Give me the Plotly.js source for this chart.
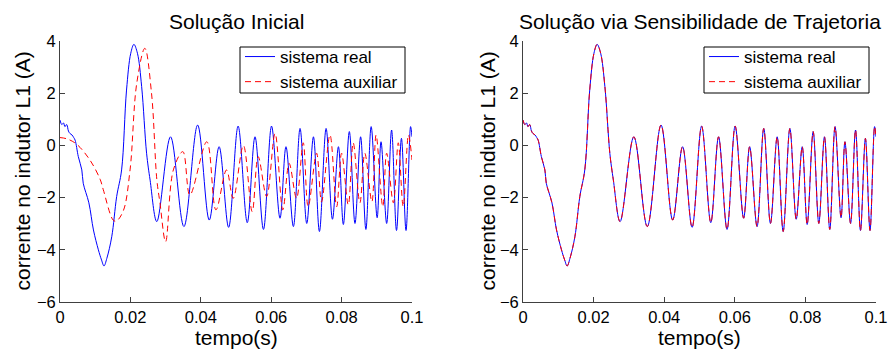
<!DOCTYPE html>
<html>
<head>
<meta charset="utf-8">
<script src="https://cdn.plot.ly/plotly-3.0.1.min.js"></script>
<style>html,body{margin:0;padding:0;background:#fff;}#chart{width:890px;height:352px;}</style>
</head>
<body>
<div id="chart"></div>
<script>
// sistema real (blue) — time (s) and current (A)
const realT = [0, 0.0005, 0.0010, 0.0014, 0.0019, 0.0024, 0.0028, 0.0034, 0.0039, 0.0043, 0.0052, 0.0062, 0.0066, 0.0082, 0.0095, 0.0109, 0.0118, 0.0125, 0.0133, 0.0147, 0.0161, 0.0175, 0.0189, 0.0201, 0.0210, 0.0220, 0.0232, 0.0246, 0.0256, 0.0275,
  0.0314, 0.0352, 0.0391, 0.0424, 0.0452, 0.0479, 0.0506, 0.0532, 0.0554, 0.0578, 0.0601, 0.0625, 0.0642, 0.0663, 0.0682, 0.0701, 0.0720, 0.0737, 0.0756, 0.0774, 0.0791, 0.0805, 0.0822, 0.0838, 0.0854, 0.0869, 0.0884, 0.0901, 0.0912, 0.0928, 0.0942, 0.0956, 0.0970, 0.0983, 0.0996, 0.1000];
const realY = [0.97, 0.80, 0.86, 0.72, 0.80, 0.55, 0.46, 0.40, 0.30, 0.20, -0.43, -0.94, -1.45, -2.20, -3.24, -4.00, -4.39, -4.62, -4.33, -3.50, -1.96, -0.94, 2.12, 3.53, 3.87, 3.53, 2.25, -0.30, -1.33, -2.92,
  0.33, -3.11, 0.78, -2.86, -0.05, -3.14, 0.74, -2.96, 0.33, -3.22, 0.74, -2.79, -0.05, -3.11, 0.65, -2.99, 0.33, -3.30, 0.65, -2.83, -0.05, -3.03, 0.53, -2.99, 0.33, -3.22, 0.72, -2.77, 0.14, -2.99, 0.59, -3.26, 0.27, -3.26, 0.72, 0.33];

// sistema auxiliar, solução inicial (red dashed, left)
const auxT = [0, 0.0020, 0.0047, 0.0085, 0.0114, 0.0123, 0.0151, 0.0160, 0.0180, 0.0199, 0.0218, 0.0241, 0.0260, 0.0275, 0.0284, 0.0300,
  0.0322, 0.0349, 0.0369, 0.0417, 0.0443, 0.0473, 0.0492, 0.0521, 0.0546, 0.0563, 0.0587, 0.0611, 0.0633, 0.0651, 0.0672, 0.0691, 0.0705, 0.0729, 0.0743, 0.0767, 0.0786, 0.0800, 0.0819, 0.0833, 0.0852, 0.0866, 0.0886, 0.0898, 0.0917, 0.0928, 0.0947, 0.0961, 0.0975, 0.0990, 0.1000];
const auxY = [0.30, 0.25, 0.05, -0.56, -1.30, -1.70, -2.86, -2.90, -2.50, -0.94, 2.38, 3.72, 2.00, -1.30, -2.20, -3.69,
  -0.94, -0.24, -1.90, 0.14, -2.47, -0.94, -2.03, 0.00, -2.54, -0.43, -1.96, 0.46, -2.47, -0.69, -2.03, 0.10, -2.35, -0.30, -2.16, 0.40, -2.35, -0.30, -2.28, 0.10, -2.20, -0.30, -2.16, 0.40, -2.35, -0.30, -2.20, 0.10, -2.35, 0.40, -0.56];

// sistema auxiliar após ajuste via sensibilidade (red dashed, right) — follows the real system
const auxAjT = realT;
const auxAjY = realY;

const xTicks = [0, 0.02, 0.04, 0.06, 0.08, 0.1];
const yTicks = [-6, -4, -2, 0, 2, 4];
const titles = ['Solução Inicial', 'Solução via Sensibilidade de Trajetoria'];
const seriesNames = ['sistema real', 'sistema auxiliar'];
const xTitle = 'tempo(s)';
const yTitle = 'corrente no indutor L1 (A)';

const FONT = 'Liberation Sans, Arial, Helvetica, sans-serif';
const blueLine = {color: '#0000ff', width: 1, shape: 'spline', smoothing: 1};
const redLine = {color: '#ff0000', width: 1, dash: '6px,4px', shape: 'spline', smoothing: 1};

const traces = [
  {x: realT, y: realY, type: 'scatter', mode: 'lines', name: seriesNames[0], line: blueLine, xaxis: 'x', yaxis: 'y', legend: 'legend'},
  {x: auxT, y: auxY, type: 'scatter', mode: 'lines', name: seriesNames[1], line: redLine, xaxis: 'x', yaxis: 'y', legend: 'legend'},
  {x: realT, y: realY, type: 'scatter', mode: 'lines', name: seriesNames[0], line: blueLine, xaxis: 'x2', yaxis: 'y2', legend: 'legend2'},
  {x: auxAjT, y: auxAjY, type: 'scatter', mode: 'lines', name: seriesNames[1], line: redLine, xaxis: 'x2', yaxis: 'y2', legend: 'legend2'}
];

function xa(domain, anchor) {
  return {
    domain: domain, anchor: anchor, range: [0, 0.1], tickvals: xTicks, ticktext: xTicks.map(String),
    showline: true, linecolor: '#404040', linewidth: 1, mirror: false, showgrid: false, zeroline: false,
    ticks: 'inside', ticklen: 5, tickcolor: '#404040', tickfont: {size: 16.5, color: '#000', family: FONT}
  };
}
function ya(anchor) {
  return {
    domain: [0, 1], anchor: anchor, range: [-6, 4], tickvals: yTicks,
    showline: true, linecolor: '#404040', linewidth: 1, mirror: false, showgrid: false, zeroline: false,
    ticks: 'inside', ticklen: 5, tickcolor: '#404040', tickfont: {size: 16.5, color: '#000', family: FONT}
  };
}
const W = 890, H = 352, ML = 60, MR = 14, MT = 41, MB = 50;
const PW = W - ML - MR, PH = H - MT - MB;
const px = (v) => (v - ML) / PW;
const py = (v) => 1 - (v - MT) / PH;
const legendAt = (left) => ({
  x: px(left), xanchor: 'left', y: py(39), yanchor: 'top',
  bgcolor: 'rgba(0,0,0,0)', borderwidth: 0, font: {size: 17, color: '#000', family: FONT},
  tracegroupgap: 0, itemwidth: 30
});
const legendBoxes = [[240, 405], [704, 869]].map(([a, b]) => ({
  type: 'rect', xref: 'paper', yref: 'paper', x0: px(a), x1: px(b), y0: py(93), y1: py(47),
  fillcolor: '#fff', line: {color: '#000', width: 1}, layer: 'above'
}));

const titleAnn = titles.map((t, i) => ({
  text: t, xref: (i ? 'x2' : 'x') + ' domain', x: 0.5, xanchor: 'center', yref: 'paper', y: 1, yanchor: 'bottom', yshift: 6,
  showarrow: false, font: {size: 21, color: '#000', family: FONT}
}));
const xTitleAnn = [0, 1].map(i => ({
  text: xTitle, xref: (i ? 'x2' : 'x') + ' domain', x: 0.5, xanchor: 'center', yref: 'paper', y: 0, yanchor: 'middle', yshift: -35,
  borderpad: 0, showarrow: false, font: {size: 21, color: '#000', family: FONT}
}));
const yTitleAnn = [22, 487].map(cx => ({
  text: yTitle, xref: 'paper', x: px(cx), xanchor: 'center', yref: 'paper', y: 0.5, yanchor: 'middle', textangle: -90,
  borderpad: 0, showarrow: false, font: {size: 21, color: '#000', family: FONT}
}));

const layout = {
  width: W, height: H, margin: {l: ML, r: MR, t: MT, b: MB}, paper_bgcolor: '#fff', plot_bgcolor: '#fff',
  font: {family: FONT, color: '#000'}, showlegend: true,
  xaxis: xa([0, px(412)], 'y'), yaxis: ya('x'),
  xaxis2: xa([px(523), 1], 'y2'), yaxis2: ya('x2'),
  legend: legendAt(240), legend2: legendAt(704),
  shapes: legendBoxes,
  annotations: titleAnn.concat(xTitleAnn, yTitleAnn)
};
Plotly.newPlot('chart', traces, layout, {staticPlot: true, displayModeBar: false});
</script>
</body>
</html>
